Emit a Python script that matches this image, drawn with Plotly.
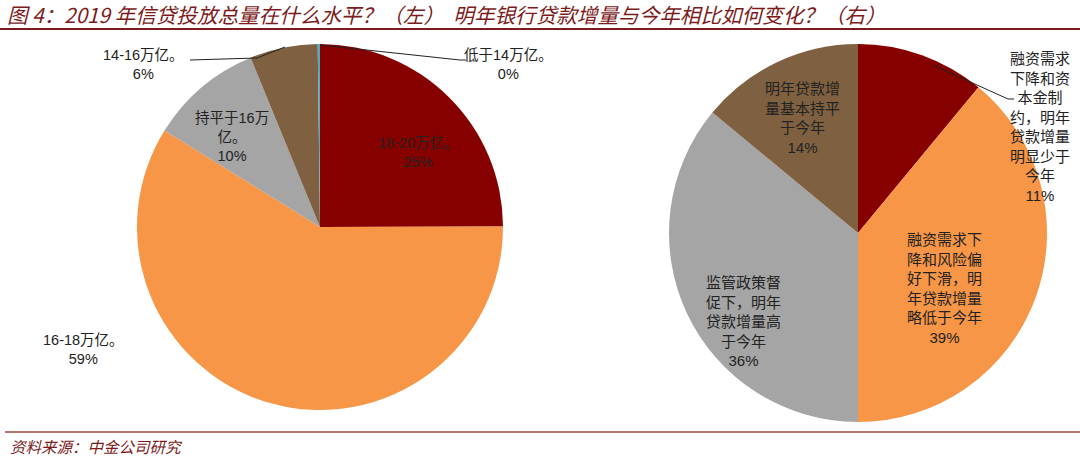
import plotly.graph_objects as go

# Left pie: 2019 credit total
left_labels = ['18-20万亿。', '16-18万亿。', '持平于16万<br>亿。', '14-16万亿。', '低于14万亿。']
left_values = [25, 59, 10, 6, 0.2]
left_colors = ['#870000', '#F79646', '#A5A5A5', '#7F6040', '#4BACC6']

# Right pie: next year's loan growth vs this year
right_labels = ['融资需求<br>下降和资<br>本金制<br>约，明年<br>贷款增量<br>明显少于<br>今年',
                '融资需求下<br>降和风险偏<br>好下滑，明<br>年贷款增量<br>略低于今年',
                '监管政策督<br>促下，明年<br>贷款增量高<br>于今年',
                '明年贷款增<br>量基本持平<br>于今年']
right_values = [11, 39, 36, 14]
right_colors = ['#870000', '#F79646', '#A5A5A5', '#7F6040']

W, H = 1080, 461
title = '图 4：2019 年信贷投放总量在什么水平？（左）  明年银行贷款增量与今年相比如何变化？（右）'
source = '资料来源：中金公司研究'
red = '#7B1B1B'
sans = 'Liberation Sans, Noto Sans CJK SC'


def px_x(x):
    return x / W


def px_y(y):
    return 1 - y / H


def pct(vals):
    t = sum(vals)
    return ['%d%%' % round(v / t * 100) for v in vals]


fig = go.Figure()
fig.add_trace(go.Pie(
    labels=left_labels, values=left_values, sort=False, direction='clockwise',
    rotation=0, marker=dict(colors=left_colors, line=dict(width=0)),
    textinfo='none', hoverinfo='label+percent', showlegend=False,
    domain=dict(x=[px_x(320 - 183), px_x(320 + 183)], y=[px_y(227 + 183), px_y(227 - 183)]),
))
fig.add_trace(go.Pie(
    labels=right_labels, values=right_values, sort=False, direction='clockwise',
    rotation=0, marker=dict(colors=right_colors, line=dict(width=0)),
    textinfo='none', hoverinfo='percent', showlegend=False,
    domain=dict(x=[px_x(858 - 189), px_x(858 + 189)], y=[px_y(233 + 189), px_y(233 - 189)]),
))

# label positions (pixel centres)
left_pos = [(418, 152), (83, 349), (232, 137), (143, 65), (508, 65)]
right_pos = [(1040, 127), (944, 288), (743, 321), (802, 118)]

lp = pct(left_values)
for lab, p, (x, y) in zip(left_labels, lp, left_pos):
    fig.add_annotation(x=px_x(x), y=px_y(y), xref='paper', yref='paper',
                       xanchor='center', yanchor='middle',
                       text=lab + '<br>' + p, showarrow=False, align='center',
                       font=dict(family=sans, size=14.5, color='#222'))
rp = pct(right_values)
for lab, p, (x, y) in zip(right_labels, rp, right_pos):
    fig.add_annotation(x=px_x(x), y=px_y(y), xref='paper', yref='paper',
                       xanchor='center', yanchor='middle',
                       text=lab + '<br>' + p, showarrow=False, align='center',
                       font=dict(family=sans, size=15, color='#222'))

# leader lines
leaders = [
    [(190, 60), (257, 58), (285, 47)],
    [(320, 45), (460, 60), (466, 60)],
    [(933, 65), (1008, 99), (1014, 99)],
]
for pts in leaders:
    path = 'M ' + ' L '.join('%f %f' % (px_x(x), px_y(y)) for x, y in pts)
    fig.add_shape(type='path', path=path, xref='paper', yref='paper',
                  line=dict(color='#222', width=1))

# title, rules and source
fig.add_annotation(x=px_x(5), y=px_y(14), xref='paper', yref='paper',
                   xanchor='left', yanchor='middle',
                   text='<i>' + title + '</i>', showarrow=False,
                   font=dict(family='Noto Sans CJK SC', size=20.6, color=red))
fig.add_shape(type='line', xref='paper', yref='paper', x0=0, x1=1,
              y0=px_y(29), y1=px_y(29), line=dict(color=red, width=2))
fig.add_shape(type='line', xref='paper', yref='paper', x0=px_x(5), x1=1,
              y0=px_y(432), y1=px_y(432), line=dict(color='#9B4A3A', width=1.5))
fig.add_annotation(x=px_x(8), y=px_y(446), xref='paper', yref='paper',
                   xanchor='left', yanchor='middle',
                   text='<i>' + source + '</i>', showarrow=False,
                   font=dict(family='Noto Sans CJK SC', size=15.5, color=red))

fig.update_layout(width=W, height=H, margin=dict(l=0, r=0, t=0, b=0),
                  paper_bgcolor='white', plot_bgcolor='white')
fig.write_html('out.html', config={'displayModeBar': False},
               post_script="document.body.style.margin='0';")
